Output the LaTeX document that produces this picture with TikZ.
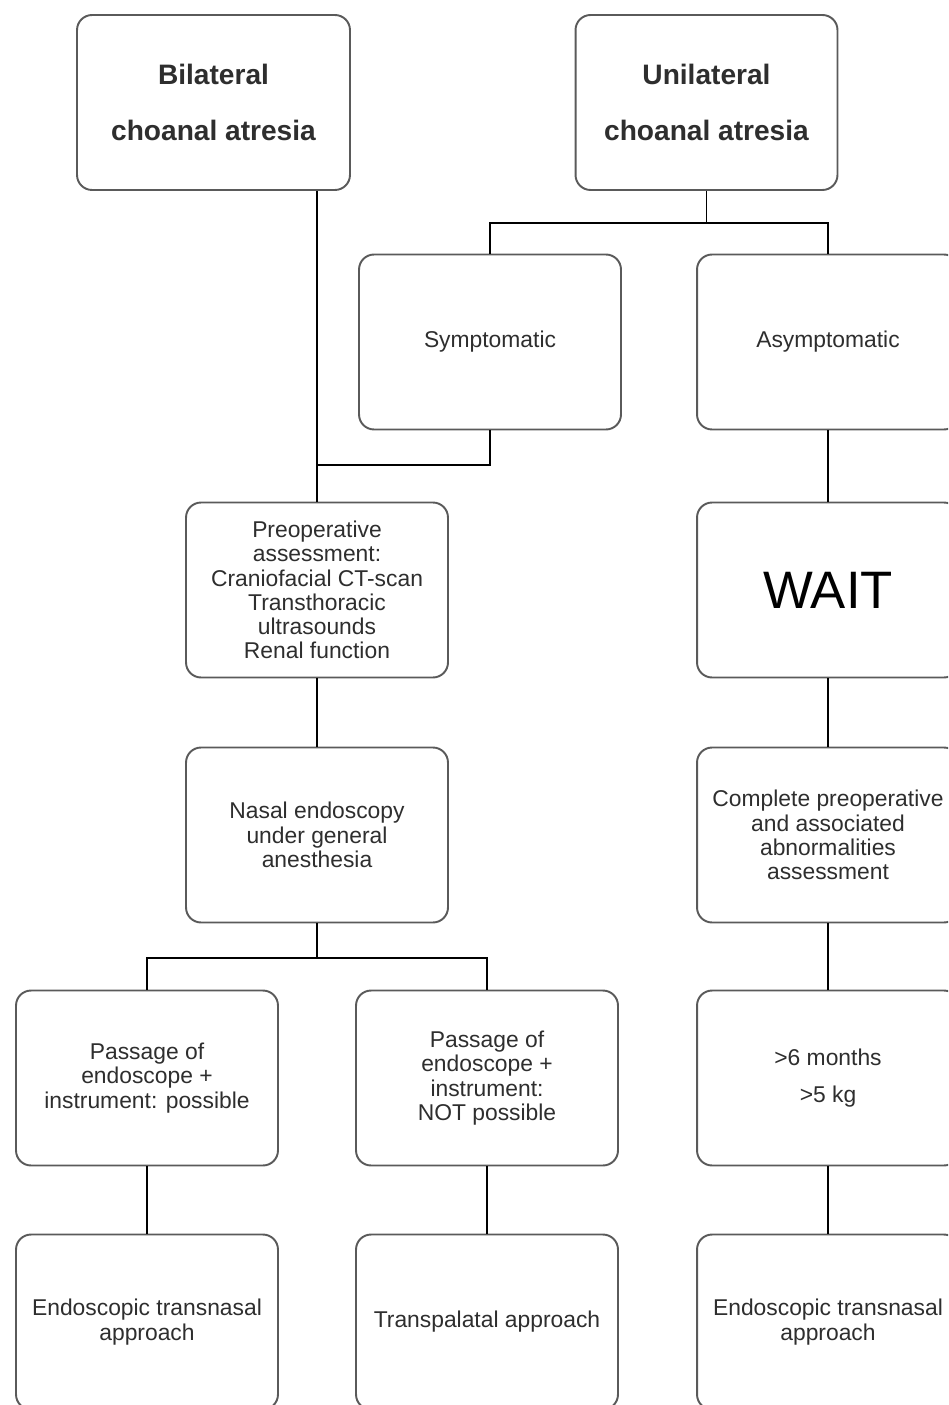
\documentclass[tikz,border=0pt]{standalone}
\usepackage{fontspec}
\setmainfont{Liberation Sans}
\usetikzlibrary{positioning}
\definecolor{boxgray}{HTML}{5A5A5A}
\definecolor{textgray}{HTML}{2E2E2E}

\begin{document}
\begin{tikzpicture}[x=0.02cm, y=-0.02cm]
    \tikzstyle{every node}=[font=\fontsize{13}{13.8}\selectfont, text=textgray]
    \tikzstyle{stage} = [draw=boxgray, line width=1.1pt, rounded corners=0.3cm,
        fill=white, minimum width=5.24cm, minimum height=3.5cm, align=center,
        inner sep=2pt]
    \tikzstyle{title} = [stage, font=\fontsize{16}{32}\selectfont\bfseries]
    \tikzstyle{link} = [draw=black, line width=1.1pt]

    \clip (0,0) rectangle (948,1405);

    % top row
    \node[title, minimum width=5.46cm](bil) at (213.5,102.5) {Bilateral\\choanal atresia};
    \node[title](uni) at (706.5,102.5) {Unilateral\\choanal atresia};

    \node[stage](sym) at (490,342) {Symptomatic};
    \node[stage](asym) at (828,342) {Asymptomatic};

    % left branch
    \node[stage](preop) at (317,590) {Preoperative\\assessment:\\Craniofacial CT-scan\\Transthoracic\\ultrasounds\\Renal function};
    \node[stage](nasal) at (317,835) {Nasal endoscopy\\under general\\anesthesia};

    \node[stage](pos) at (147,1078) {Passage of\\endoscope +\\instrument: possible};
    \node[stage](notp) at (487,1078) {Passage of\\endoscope +\\instrument:\\NOT possible};

    \node[stage](endoa) at (147,1322) {Endoscopic transnasal\\approach};
    \node[stage](trans) at (487,1322) {Transpalatal approach};

    % right branch
    \node[stage](wait) at (828,590) {\fontsize{30}{32}\selectfont\color{black}WAIT};
    \node[stage](compl) at (828,835) {Complete preoperative\\and associated\\abnormalities\\assessment};
    \node[stage](age) at (828,1078) {{>}6 months\\[7pt]{>}5 kg};
    \node[stage](endob) at (828,1322) {Endoscopic transnasal\\approach};

    % connectors
    \draw[link] (bil.south -| preop.north) -- (preop.north);
    \draw[link] (sym.south) -- ++(0,35) -| (preop.north);
    \draw[link] (uni.south) -- ++(0,32) coordinate (j1);
    \draw[link] (sym.north) |- (j1) -| (asym.north);

    \draw[link] (preop) -- (nasal);
    \draw[link] (nasal.south) -- ++(0,35) coordinate (j2);
    \draw[link] (pos.north) |- (j2) -| (notp.north);
    \draw[link] (pos) -- (endoa);
    \draw[link] (notp) -- (trans);

    \draw[link] (asym) -- (wait);
    \draw[link] (wait) -- (compl);
    \draw[link] (compl) -- (age);
    \draw[link] (age) -- (endob);
\end{tikzpicture}
\end{document}
